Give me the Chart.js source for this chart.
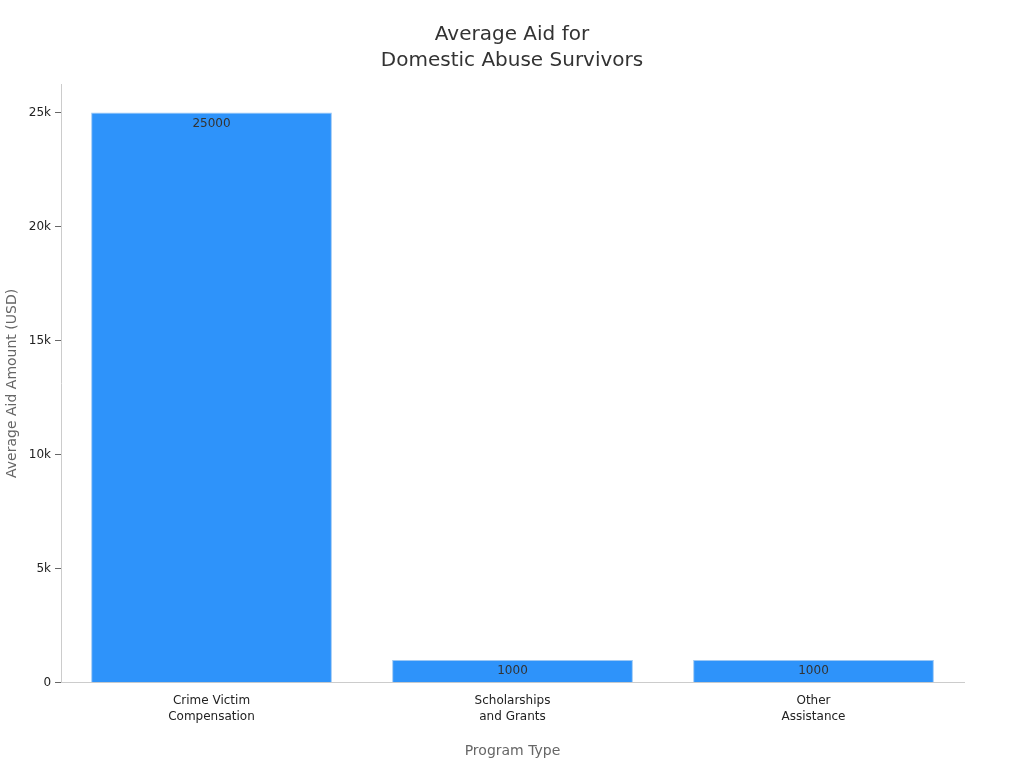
<!DOCTYPE html>
<html>
<head>
    <title>Average Aid</title>
    <style>
        body { margin: 0; background: #fff; }
        #wrap { width: 1024px; height: 768px; }
    </style>
</head>
<body>
    <div id="wrap"><canvas id="myChart"></canvas></div>
    <script src="https://cdn.jsdelivr.net/npm/chart.js@4"></script>
    <script type="text/javascript">
        const categories = [['Crime Victim', 'Compensation'], ['Scholarships', 'and Grants'], ['Other', 'Assistance']];
        const aidValues = [25000, 1000, 1000];
        const tickValues = [0, 5000, 10000, 15000, 20000, 25000];
        const tickLabels = ['0', '5k', '10k', '15k', '20k', '25k'];

        Chart.defaults.font.family = 'DejaVu Sans';
        Chart.defaults.color = '#222';

        const valueLabels = {
            id: 'valueLabels',
            afterDatasetsDraw(chart) {
                const ctx = chart.ctx;
                const meta = chart.getDatasetMeta(0);
                ctx.save();
                ctx.font = '12px DejaVu Sans';
                ctx.fillStyle = '#333';
                ctx.textAlign = 'center';
                ctx.textBaseline = 'middle';
                meta.data.forEach((bar, i) => {
                    ctx.fillText(String(aidValues[i]), bar.x, bar.y + 11);
                });
                ctx.restore();
            }
        };

        const ctx = document.getElementById('myChart').getContext('2d');
        new Chart(ctx, {
            type: 'bar',
            data: {
                labels: categories,
                datasets: [{
                    data: aidValues,
                    backgroundColor: '#2e93fa',
                    borderColor: '#9cc8f5',
                    borderWidth: 1,
                    barPercentage: 0.8,
                    categoryPercentage: 1
                }]
            },
            options: {
                responsive: true,
                maintainAspectRatio: false,
                animation: false,
                layout: { padding: { left: 0, right: 0, top: 12, bottom: 4 } },
                plugins: {
                    legend: { display: false },
                    tooltip: { enabled: false },
                    title: {
                        display: true,
                        text: ['Average Aid for', 'Domestic Abuse Survivors'],
                        font: { size: 20, weight: 'normal', lineHeight: 1.3 },
                        color: '#333',
                        padding: { top: 10, bottom: 10 }
                    }
                },
                scales: {
                    x: {
                        afterFit(axis) { axis.paddingRight = 60; },
                        grid: { display: false, drawTicks: false },
                        border: { color: '#ccc' },
                        ticks: { font: { size: 12, lineHeight: 1.35 }, color: '#222', padding: 10 },
                        title: { display: true, text: 'Program Type', font: { size: 14 }, color: '#666', padding: { top: 8 } }
                    },
                    y: {
                        min: 0,
                        max: 26250,
                        afterBuildTicks(axis) { axis.ticks = tickValues.map(v => ({ value: v })); },
                        grid: { display: true, drawOnChartArea: false, drawTicks: true, tickLength: 6, tickColor: '#666' },
                        border: { color: '#ccc' },
                        ticks: {
                            font: { size: 12 }, color: '#222', padding: 4,
                            callback: (v) => tickLabels[tickValues.indexOf(v)]
                        },
                        title: { display: true, text: 'Average Aid Amount (USD)', font: { size: 14 }, color: '#666' }
                    }
                }
            },
            plugins: [valueLabels]
        });
    </script>
</body>
</html>
